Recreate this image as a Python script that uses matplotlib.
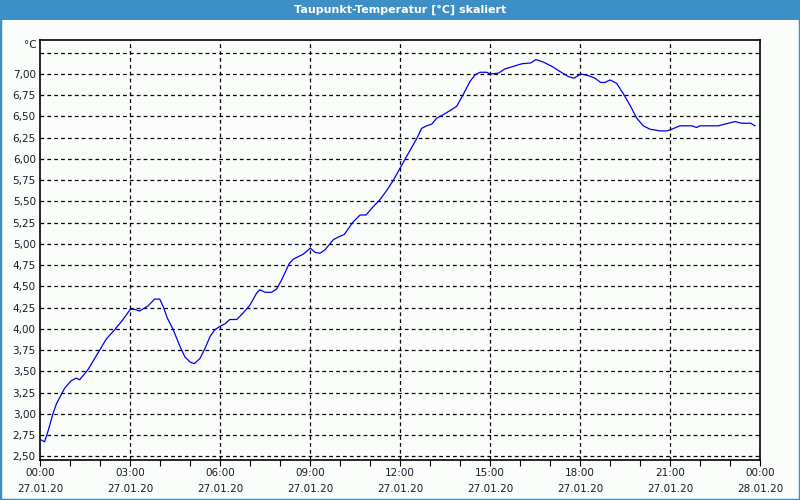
import matplotlib
matplotlib.use("Agg")
import matplotlib.pyplot as plt
from matplotlib.patches import Rectangle
from matplotlib.transforms import blended_transform_factory

title = "Taupunkt-Temperatur [°C] skaliert"
unit_label = "°C"

hours = [0.0, 0.15, 0.28, 0.43, 0.55, 0.82, 1.04, 1.21, 1.32, 1.6, 1.99, 2.21, 2.49, 2.77,
         3.01, 3.15, 3.32, 3.6, 3.82, 3.99, 4.11, 4.24, 4.44, 4.67, 4.83, 5.0, 5.14, 5.33,
         5.5, 5.67, 5.83, 6.0, 6.17, 6.33, 6.56, 6.78, 7.0, 7.22, 7.33, 7.5, 7.72, 7.89,
         8.06, 8.31, 8.44, 8.78, 9.01, 9.17, 9.33, 9.5, 9.78, 9.94, 10.14, 10.44, 10.67,
         10.87, 11.06, 11.33, 11.56, 11.78, 12.0, 12.22, 12.56, 12.72, 12.89, 13.06, 13.22,
         13.44, 13.67, 13.89, 14.11, 14.33, 14.5, 14.67, 14.89, 15.01, 15.28, 15.5, 15.78,
         16.06, 16.36, 16.53, 16.78, 17.06, 17.33, 17.61, 17.8, 18.02, 18.28, 18.5, 18.69,
         18.83, 19.0, 19.22, 19.44, 19.67, 19.89, 20.11, 20.33, 20.67, 20.89, 21.06, 21.33,
         21.72, 21.89, 22.0, 22.61, 22.94, 23.17, 23.39, 23.69, 23.83]
values = [2.70, 2.67, 2.81, 3.00, 3.12, 3.30, 3.39, 3.42, 3.40, 3.52, 3.75, 3.88, 3.99, 4.11,
          4.23, 4.23, 4.21, 4.27, 4.35, 4.35, 4.26, 4.13, 3.99, 3.79, 3.67, 3.61, 3.59, 3.65,
          3.77, 3.91, 3.99, 4.03, 4.06, 4.11, 4.11, 4.19, 4.28, 4.42, 4.46, 4.43, 4.43, 4.47,
          4.58, 4.77, 4.82, 4.88, 4.95, 4.90, 4.89, 4.93, 5.05, 5.08, 5.11, 5.26, 5.34,
          5.34, 5.42, 5.52, 5.63, 5.75, 5.89, 6.03, 6.24, 6.36, 6.39, 6.41, 6.48,
          6.52, 6.57, 6.62, 6.76, 6.91, 6.99, 7.02, 7.02, 7.00, 7.01, 7.06, 7.09,
          7.12, 7.13, 7.17, 7.14, 7.09, 7.03, 6.97, 6.95, 7.00, 6.98, 6.95, 6.90,
          6.90, 6.93, 6.89, 6.77, 6.63, 6.48, 6.39, 6.35, 6.33, 6.33, 6.35, 6.39,
          6.39, 6.37, 6.39, 6.39, 6.42, 6.44, 6.42, 6.42, 6.39]

y_ticks = [2.50, 2.75, 3.00, 3.25, 3.50, 3.75, 4.00, 4.25, 4.50, 4.75, 5.00, 5.25,
           5.50, 5.75, 6.00, 6.25, 6.50, 6.75, 7.00]
y_grid_extra = [7.25]
x_ticks = [0, 3, 6, 9, 12, 15, 18, 21, 24]
x_time_labels = ["00:00", "03:00", "06:00", "09:00", "12:00", "15:00", "18:00", "21:00", "00:00"]
x_date_labels = ["27.01.20", "27.01.20", "27.01.20", "27.01.20", "27.01.20", "27.01.20",
                 "27.01.20", "27.01.20", "28.01.20"]

W, H = 800, 500
bg = "#fbfdfb"
blue = "#3e8fc6"
txt = "#1a1a2a"

fig = plt.figure(figsize=(W / 100, H / 100), dpi=100, facecolor=bg)

# frame and title bar
fig.patches.append(Rectangle((0, 0), 1, 1, transform=fig.transFigure, fill=False,
                             edgecolor=blue, linewidth=2.5, zorder=0))
fig.patches.append(Rectangle((0, 1 - 20 / H), 1, 20 / H, transform=fig.transFigure,
                             facecolor=blue, edgecolor="none", zorder=1))
fig.text(0.5, 1 - 10 / H, title, ha="center", va="center", color="white",
         fontsize=8, fontweight="bold", family="DejaVu Sans")

left, right, top, bottom = 40, 760, 40, 460
ax = fig.add_axes([left / W, 1 - bottom / H, (right - left) / W, (bottom - top) / H])
ax.set_facecolor(bg)
ax.set_xlim(0, 24)
ax.set_ylim(2.456, 7.40)

for v in y_ticks + y_grid_extra:
    ax.axhline(v, color="black", lw=0.9, ls=(0, (3, 2.5)), zorder=1)
for h in x_ticks[1:-1]:
    ax.axvline(h, color="black", lw=0.9, ls=(0, (3, 2.5)), zorder=1)

ax.plot(hours, values, color="#0000ee", lw=0.9, zorder=3)

ax.set_yticks(y_ticks)
ax.set_yticklabels([f"{v:.2f}".replace(".", ",") for v in y_ticks], fontsize=7.5, color=txt)
ax.tick_params(axis="y", length=0, pad=3)

ax.set_xticks(x_ticks)
ax.set_xticklabels([])
ax.set_xticks(range(0, 25), minor=True)
ax.tick_params(axis="x", which="both", length=4, width=0.8, direction="out",
               color="black")

trans = blended_transform_factory(ax.transData, fig.transFigure)
for h, t, d in zip(x_ticks, x_time_labels, x_date_labels):
    ax.text(h, 1 - 473 / H, t, transform=trans, ha="center", va="center",
            fontsize=7.5, color=txt, clip_on=False)
    ax.text(h, 1 - 489 / H, d, transform=trans, ha="center", va="center",
            fontsize=7.5, color=txt, clip_on=False)

for s in ax.spines.values():
    s.set_color("black")
    s.set_linewidth(1.2)

fig.text(37 / W, 1 - 45 / H, unit_label, ha="right", va="center", fontsize=7.5, color=txt)

fig.savefig("out.png", dpi=100, facecolor=bg)
